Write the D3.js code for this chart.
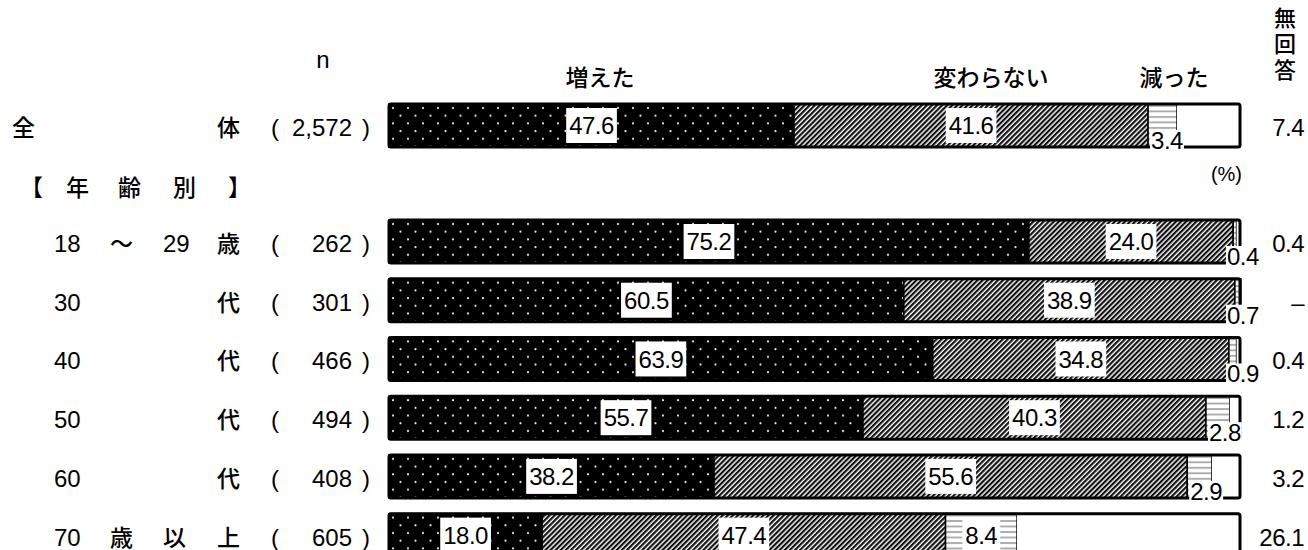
<!DOCTYPE html>
<html>
<head>
<meta charset="utf-8">
<script src="https://cdnjs.cloudflare.com/ajax/libs/d3/7.8.5/d3.min.js"></script>
<style>
  body { margin: 0; background: #fff; }
</style>
</head>
<body>
<div id="chart"></div>
<script>
// data
const categories = ["全体", "18～29歳", "30代", "40代", "50代", "60代", "70歳以上"];
const labelParts = [
  ["全", "", "", "体"],
  ["18", "～", "29", "歳"],
  ["30", "", "", "代"],
  ["40", "", "", "代"],
  ["50", "", "", "代"],
  ["60", "", "", "代"],
  ["70", "歳", "以", "上"]
];
const sampleSizes = ["2,572", "262", "301", "466", "494", "408", "605"];
const increased = [47.6, 75.2, 60.5, 63.9, 55.7, 38.2, 18.0];
const unchanged = [41.6, 24.0, 38.9, 34.8, 40.3, 55.6, 47.4];
const decreased = [3.4, 0.4, 0.7, 0.9, 2.8, 2.9, 8.4];
const noAnswer = [7.4, 0.4, null, 0.4, 1.2, 3.2, 26.1];
const seriesKeys = ["増えた", "変わらない", "減った", "無回答"];

const width = 1308;
const height = 550;
const jpFont = "'Noto Sans CJK JP', 'Noto Sans', sans-serif";
const numFont = "'Liberation Sans', Arial, sans-serif";
const barH = 43;

let svg = d3.select("#chart").append("svg")
  .attr("width", width)
  .attr("height", height);

// patterns
let defs = svg.append("defs");
let dots = defs.append("pattern")
  .attr("id", "pat-inc")
  .attr("patternUnits", "userSpaceOnUse")
  .attr("x", 389).attr("y", 0)
  .attr("width", 15).attr("height", 15.4);
dots.append("rect").attr("width", 15).attr("height", 15.4).attr("fill", "#000");
dots.append("circle").attr("cx", 4).attr("cy", 4).attr("r", 1.1).attr("fill", "#eee");
dots.append("circle").attr("cx", 11.5).attr("cy", 11.7).attr("r", 1.1).attr("fill", "#eee");

let hatch = defs.append("pattern")
  .attr("id", "pat-unc")
  .attr("patternUnits", "userSpaceOnUse")
  .attr("width", 3.6).attr("height", 10)
  .attr("patternTransform", "rotate(45)");
hatch.append("rect").attr("width", 3.6).attr("height", 10).attr("fill", "#fff");
hatch.append("rect").attr("width", 2.2).attr("height", 10).attr("fill", "#111");

let lines = defs.append("pattern")
  .attr("id", "pat-dec")
  .attr("patternUnits", "userSpaceOnUse")
  .attr("width", 10).attr("height", 5.5);
lines.append("rect").attr("width", 10).attr("height", 5.5).attr("fill", "#fff");
lines.append("rect").attr("y", 1).attr("width", 10).attr("height", 1.8).attr("fill", "#a8a8a8");

const fills = {
  "増えた": "url(#pat-inc)",
  "変わらない": "url(#pat-unc)",
  "減った": "url(#pat-dec)",
  "無回答": "#fff"
};

// scales
let x = d3.scaleLinear().domain([0, 100]).range([389, 1240]);
let yAge = d3.scaleBand()
  .domain(categories.slice(1))
  .range([220, 556.5])
  .paddingInner(0.27);
let yTop = (c, i) => i === 0 ? 104 : yAge(c);

let rows = categories.map((c, i) => ({
  cat: c,
  "増えた": increased[i],
  "変わらない": unchanged[i],
  "減った": decreased[i],
  "無回答": noAnswer[i] === null ? 0 : noAnswer[i]
}));
let stacked = d3.stack().keys(seriesKeys)(rows);

// header texts
svg.append("text")
  .attr("x", 323).attr("y", 68)
  .attr("text-anchor", "middle")
  .style("font-family", numFont).style("font-size", "24px")
  .text("n");

let headerX = [600, 991, 1174];
seriesKeys.slice(0, 3).forEach((k, i) => {
  svg.append("text")
    .attr("x", headerX[i]).attr("y", 86)
    .attr("text-anchor", "middle")
    .style("font-family", jpFont).style("font-size", "23px").style("font-weight", 500)
    .text(k);
});
// vertical header for no-answer column
svg.append("text")
  .attr("x", 1285).attr("y", 7)
  .style("writing-mode", "vertical-rl")
  .style("font-family", jpFont).style("font-size", "22px").style("font-weight", 500)
  .style("letter-spacing", "4px")
  .text(seriesKeys[3]);

svg.append("text")
  .attr("x", 1242).attr("y", 181)
  .attr("text-anchor", "end")
  .style("font-family", numFont).style("font-size", "20px")
  .text("(%)");

// section label
let sectionX = [20, 66, 118, 173, 228];
["【", "年", "齢", "別", "】"].forEach((ch, i) => {
  svg.append("text")
    .attr("x", sectionX[i]).attr("y", 196)
    .style("font-family", jpFont).style("font-size", "23px").style("font-weight", 500)
    .text(ch);
});

// row labels
let colX = [54, 110, 163, 217];
categories.forEach((c, i) => {
  let cy = yTop(c, i) + barH / 2;
  labelParts[i].forEach((p, j) => {
    if (!p) return;
    let isNum = /^[0-9,]+$/.test(p);
    svg.append("text")
      .attr("x", (i === 0 && j === 0) ? 12 : colX[j])
      .attr("y", cy + 10.5)
      .style("font-family", isNum ? numFont : jpFont)
      .style("font-size", isNum ? "24px" : "23px")
      .style("font-weight", isNum ? 400 : 500)
      .text(p);
  });
  svg.append("text")
    .attr("x", 271).attr("y", cy + 10.5)
    .style("font-family", numFont).style("font-size", "24px")
    .text("(");
  svg.append("text")
    .attr("x", 352).attr("y", cy + 10.5)
    .attr("text-anchor", "end")
    .style("font-family", numFont).style("font-size", "24px")
    .text(sampleSizes[i]);
  svg.append("text")
    .attr("x", 362).attr("y", cy + 10.5)
    .style("font-family", numFont).style("font-size", "24px")
    .text(")");
  svg.append("text")
    .attr("x", 1304).attr("y", cy + 10.5)
    .attr("text-anchor", "end")
    .style("font-family", numFont).style("font-size", "24px")
    .style("letter-spacing", "-0.5px")
    .text(noAnswer[i] === null ? "–" : noAnswer[i].toFixed(1));
});

// bars
let barG = svg.selectAll("g.bar")
  .data(categories)
  .enter()
  .append("g")
  .classed("bar", true)
  .attr("transform", (c, i) => `translate(0, ${yTop(c, i)})`);

barG.append("rect")
  .attr("x", x(0)).attr("width", x(100) - x(0))
  .attr("height", barH)
  .attr("fill", "#fff");

stacked.forEach((layer) => {
  barG.append("rect")
    .attr("x", (c, i) => x(layer[i][0]))
    .attr("width", (c, i) => Math.max(0, x(layer[i][1]) - x(layer[i][0])))
    .attr("height", barH)
    .attr("fill", fills[layer.key])
    .attr("stroke", layer.key === "無回答" ? "none" : "#000")
    .attr("stroke-width", 1.5);
});

barG.append("rect")
  .attr("x", x(0)).attr("width", x(100) - x(0))
  .attr("height", barH)
  .attr("rx", 2)
  .attr("fill", "none")
  .attr("stroke", "#000")
  .attr("stroke-width", 3);

// value labels (all but no-answer)
stacked.slice(0, 3).forEach((layer) => {
  barG.each(function (c, i) {
    let g = d3.select(this);
    let x0 = x(layer[i][0]);
    let x1 = x(layer[i][1]);
    let segW = x1 - x0;
    let v = layer[i][1] - layer[i][0];
    let box = g.append("rect").attr("fill", "#fff");
    let t = g.append("text")
      .style("font-family", numFont)
      .style("font-size", "24px")
      .style("letter-spacing", "-0.5px")
      .text(v.toFixed(1));
    let tw = t.node().getComputedTextLength();
    if (segW > 50) {
      t.attr("x", (x0 + x1) / 2).attr("y", barH / 2 + 8.6).attr("text-anchor", "middle");
      box.attr("x", (x0 + x1) / 2 - tw / 2 - 3).attr("width", tw + 6)
        .attr("y", 4).attr("height", barH - 8);
    } else {
      let lx = Math.min(x0 + 3, x(100) - 13);
      t.attr("x", lx).attr("y", barH + 2);
      box.attr("x", lx - 1).attr("width", tw + 2)
        .attr("y", barH - 17).attr("height", 22);
    }
  });
});
</script>
</body>
</html>
